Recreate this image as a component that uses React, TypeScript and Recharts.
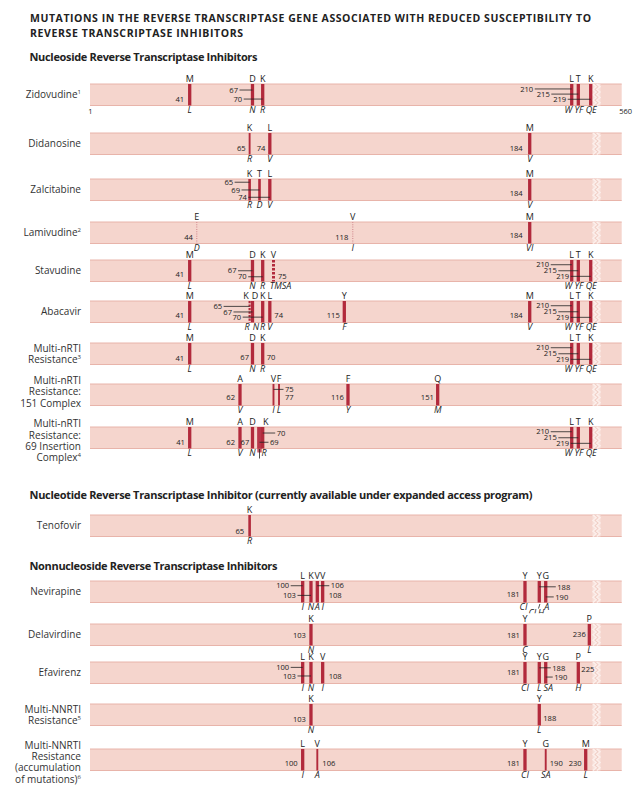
import React from 'react';
import { ComposedChart, XAxis, YAxis, ReferenceArea, ReferenceLine, Scatter } from 'recharts';

// ---------------- DATA ----------------
const TITLE_LINES = [
  'MUTATIONS IN THE REVERSE TRANSCRIPTASE GENE ASSOCIATED WITH REDUCED SUSCEPTIBILITY TO',
  'REVERSE TRANSCRIPTASE INHIBITORS',
];
const SECTION_TITLES = [
  'Nucleoside Reverse Transcriptase Inhibitors',
  'Nucleotide Reverse Transcriptase Inhibitor (currently available under expanded access program)',
  'Nonnucleoside Reverse Transcriptase Inhibitors',
];
const GENE_TICKS = [1, 560];
const AXIS_BREAK = 240;

const DRUGS = [
  'Zidovudine', 'Didanosine', 'Zalcitabine', 'Lamivudine', 'Stavudine', 'Abacavir',
  'Multi-nRTI\nResistance', 'Multi-nRTI\nResistance:\n151 Complex',
  'Multi-nRTI\nResistance:\n69 Insertion\nComplex', 'Tenofovir',
  'Nevirapine', 'Delavirdine', 'Efavirenz', 'Multi-NNRTI\nResistance',
  'Multi-NNRTI\nResistance\n(accumulation\nof mutations)',
];
const FOOTNOTES = ['1', '', '', '2', '', '', '3', '', '4', '', '', '', '', '5', '6'];
const DRUG_CLASS = ['nrti', 'nrti', 'nrti', 'nrti', 'nrti', 'nrti', 'nrti', 'nrti', 'nrti', 'nrti',
  'nnrti', 'nnrti', 'nnrti', 'nnrti', 'nnrti'];

// [codon, wild type, mutant]
type Mut = [number, string, string];
const zidovudine: Mut[] = [[41, 'M', 'L'], [67, 'D', 'N'], [70, 'K', 'R'], [210, 'L', 'W'], [215, 'T', 'YF'], [219, 'K', 'QE']];
const didanosine: Mut[] = [[65, 'K', 'R'], [74, 'L', 'V'], [184, 'M', 'V']];
const zalcitabine: Mut[] = [[65, 'K', 'R'], [69, 'T', 'D'], [74, 'L', 'V'], [184, 'M', 'V']];
const lamivudine: Mut[] = [[44, 'E', 'D'], [118, 'V', 'I'], [184, 'M', 'VI']];
const stavudine: Mut[] = [[41, 'M', 'L'], [67, 'D', 'N'], [70, 'K', 'R'], [75, 'V', 'TMSA'], [210, 'L', 'W'], [215, 'T', 'YF'], [219, 'K', 'QE']];
const abacavir: Mut[] = [[41, 'M', 'L'], [65, 'K', 'R'], [67, 'D', 'N'], [70, 'K', 'R'], [74, 'L', 'V'], [115, 'Y', 'F'], [184, 'M', 'V'], [210, 'L', 'W'], [215, 'T', 'YF'], [219, 'K', 'QE']];
const multiNrti: Mut[] = [[41, 'M', 'L'], [67, 'D', 'N'], [70, 'K', 'R'], [210, 'L', 'W'], [215, 'T', 'YF'], [219, 'K', 'QE']];
const multiNrti151: Mut[] = [[62, 'A', 'V'], [75, 'V', 'I'], [77, 'F', 'L'], [116, 'F', 'Y'], [151, 'Q', 'M']];
const multiNrti69: Mut[] = [[41, 'M', 'L'], [62, 'A', 'V'], [67, 'D', 'N'], [69, '', 'insert'], [70, 'K', 'R'], [210, 'L', 'W'], [215, 'T', 'YF'], [219, 'K', 'QE']];
const tenofovir: Mut[] = [[65, 'K', 'R']];
const nevirapine: Mut[] = [[100, 'L', 'I'], [103, 'K', 'N'], [106, 'V', 'A'], [108, 'V', 'I'], [181, 'Y', 'CI'], [188, 'Y', 'CLH'], [190, 'G', 'A']];
const delavirdine: Mut[] = [[103, 'K', 'N'], [181, 'Y', 'C'], [236, 'P', 'L']];
const efavirenz: Mut[] = [[100, 'L', 'I'], [103, 'K', 'N'], [108, 'V', 'I'], [181, 'Y', 'CI'], [188, 'Y', 'L'], [190, 'G', 'SA'], [225, 'P', 'H']];
const multiNnrti: Mut[] = [[103, 'K', 'N'], [188, 'Y', 'L']];
const multiNnrtiAccum: Mut[] = [[100, 'L', 'I'], [106, 'V', 'A'], [181, 'Y', 'CI'], [190, 'G', 'SA'], [230, 'M', 'L']];

const MUTATIONS = [zidovudine, didanosine, zalcitabine, lamivudine, stavudine, abacavir,
  multiNrti, multiNrti151, multiNrti69, tenofovir, nevirapine, delavirdine, efavirenz,
  multiNnrti, multiNnrtiAccum];

// Schematic (non-linear, broken) gene axis: codon -> fraction of bar length
const NRTI_KNOTS: [number, number][] = [
  [1, 0], [41, 0.1875], [44, 0.2007], [62, 0.2821], [65, 0.3002], [67, 0.3056], [69, 0.3188],
  [70, 0.3248], [74, 0.3382], [75, 0.3451], [77, 0.3555], [115, 0.4783], [116, 0.4852],
  [118, 0.4941], [151, 0.6539], [184, 0.827], [210, 0.906], [215, 0.9184], [219, 0.9417],
  [240, 0.9526], [560, 1],
];
const NNRTI_KNOTS: [number, number][] = [
  [1, 0], [100, 0.4], [103, 0.4156], [106, 0.4275], [108, 0.4376], [181, 0.8181], [188, 0.845],
  [190, 0.8571], [225, 0.9184], [230, 0.9323], [236, 0.9391], [240, 0.9526], [560, 1],
];

// ---------------- LAYOUT / STYLE ----------------
const FONT = '"Open Sans", "Noto Sans", "DejaVu Sans", sans-serif';
const BAR_H = 21.5;
const TOP_PAD = 18;
const BOTTOM_PAD = 28;
const RIGHT_PAD = 19.3;
const BAR_FILL = '#f5d5cd';
const BAR_EDGE = '#e8b4aa';
const MARK = '#b22a3c';
const INK = '#222';
const LEADER_MIN = 7.5;

type NumSpec = [string, number, number];
type RowLayout = {
  top: number; labelDy?: number; axis?: boolean;
  num?: Record<number, NumSpec>; mark?: Record<number, string>;
  wtDx?: Record<number, number>; mutDx?: Record<number, number>;
  drop?: Record<number, [number, boolean]>;
};

const TAM_A: Record<number, NumSpec> = { 210: ['l', 0.22, 22.5], 215: ['l', 0.5, 21.5], 219: ['l', 0.76, 21.5] };
const TAM_MUT_DX: Record<number, number> = { 210: -3.5, 215: 0.5, 219: 0.5 };

const ROW_LAYOUT: RowLayout[] = [
  { top: 84, axis: true, num: { 67: ['l', 0.28, 14.5], 70: ['l', 0.7, 20.5], 210: ['l', 0.23, 38.5], 215: ['l', 0.47, 28.5], 219: ['l', 0.71, 24.5] }, mutDx: { ...TAM_MUT_DX } },
  { top: 132.7, num: { 65: ['l', 0.72, 4], 74: ['l', 0.72, 4.5], 184: ['l', 0.72, 7] }, mark: { 65: 'thin' } },
  { top: 179, num: { 65: ['l', 0.15, 16.5], 69: ['l', 0.51, 19.5], 74: ['l', 0.85, 23], 184: ['l', 0.67, 7] }, mark: { 65: 'medium', 69: 'medium' } },
  { top: 221.7, num: { 44: ['l', 0.7, 3.8], 118: ['l', 0.7, 4.4], 184: ['l', 0.64, 7] }, mark: { 44: 'dot', 118: 'dot' } },
  { top: 260, num: { 41: ['l', 0.67, 5.5], 67: ['l', 0.5, 16], 70: ['l', 0.78, 16], 75: ['r', 0.74, 4.5], ...TAM_A }, mark: { 75: 'dash' }, mutDx: { 75: 7, ...TAM_MUT_DX } },
  { top: 300.7, num: { 41: ['l', 0.68, 5.5], 65: ['l', 0.25, 27.5], 67: ['l', 0.51, 20.5], 70: ['l', 0.75, 21.5], 74: ['r', 0.68, 4.5], 115: ['l', 0.68, 4.5], 184: ['l', 0.68, 7], ...TAM_A }, mark: { 65: 'dashThin' }, wtDx: { 65: -3.5, 67: 2.5 }, mutDx: { 65: -2.5, 67: 3.5, ...TAM_MUT_DX } },
  { top: 342.7, num: { 41: ['l', 0.7, 5.5], 67: ['l', 0.68, 3.5], 70: ['r', 0.68, 4], ...TAM_A }, mutDx: { ...TAM_MUT_DX } },
  { top: 384, labelDy: -3, num: { 62: ['l', 0.6, 5], 75: ['r', 0.25, 11.5], 77: ['r', 0.64, 6], 116: ['l', 0.62, 4], 151: ['l', 0.62, 3.8] }, mark: { 75: 'thin', 77: 'thin' } },
  { top: 426.7, labelDy: 2.8, num: { 41: ['l', 0.7, 4.8], 62: ['l', 0.7, 5], 67: ['l', 0.7, 3.2], 69: ['r', 0.71, 10.5], 70: ['r', 0.28, 14], ...TAM_A }, mark: { 69: 'wide' }, wtDx: { 70: 3 }, mutDx: { 70: 1.5, ...TAM_MUT_DX }, drop: { 69: [11, false] } },
  { top: 514.5, num: { 65: ['l', 0.75, 5.5] }, mark: { 65: 'medium' } },
  { top: 581, num: { 100: ['l', 0.22, 13.5], 103: ['l', 0.67, 15], 106: ['r', 0.22, 13.5], 108: ['r', 0.68, 6], 181: ['l', 0.6, 5.3], 188: ['r', 0.27, 18], 190: ['r', 0.74, 9.5] }, mutDx: { 181: -1.5, 188: -3, 190: 1 }, drop: { 188: [6, true] } },
  { top: 624, num: { 103: ['l', 0.52, 5], 181: ['l', 0.52, 5], 236: ['l', 0.47, 3.5] } },
  { top: 662, num: { 100: ['l', 0.25, 13.5], 103: ['l', 0.65, 15], 108: ['r', 0.68, 6], 181: ['l', 0.47, 5], 188: ['r', 0.27, 13], 190: ['r', 0.7, 8.5], 225: ['r', 0.34, 3] }, mutDx: { 190: 2.5 } },
  { top: 704, num: { 103: ['l', 0.71, 5], 188: ['r', 0.68, 4] } },
  { top: 749.3, labelDy: 2.3, num: { 100: ['l', 0.68, 5], 106: ['r', 0.68, 5], 181: ['l', 0.68, 5], 190: ['r', 0.68, 4], 230: ['l', 0.68, 4] }, mark: { 106: 'thin', 190: 'thin' } },
];

const SECTION_Y = [61, 499, 569.8];
const SECTION_W = [228, 503, 248];

// ---------------- HELPERS ----------------
function fraction(codon: number, knots: [number, number][]) {
  for (let i = 1; i < knots.length; i++) {
    const [c0, f0] = knots[i - 1];
    const [c1, f1] = knots[i];
    if (codon <= c1) return f0 + ((f1 - f0) * (codon - c0)) / (c1 - c0);
  }
  return 1;
}
function schematic(codon: number, cls: string) {
  const f = fraction(codon, cls === 'nnrti' ? NNRTI_KNOTS : NRTI_KNOTS);
  return GENE_TICKS[0] + (GENE_TICKS[1] - GENE_TICKS[0]) * f;
}

const BreakShape = (props: any) => {
  const { cx, cy } = props;
  const top = cy - BAR_H / 2;
  const bottom = cy + BAR_H / 2;
  const zig = (off: number) => {
    const pts: string[] = [];
    let k = 0;
    for (let y = top; y <= bottom + 0.01; y += BAR_H / 8) {
      pts.push(`${cx + off + (k % 2 ? 1.6 : -1.6)},${y}`);
      k++;
    }
    return pts.join(' ');
  };
  return (
    <g>
      <rect x={cx - 4} y={top} width={8} height={BAR_H} fill="#f8e1db" />
      <polyline points={zig(-2)} fill="none" stroke="#fcefeb" strokeWidth={1.3} />
      <polyline points={zig(2)} fill="none" stroke="#fcefeb" strokeWidth={1.3} />
      <polyline points={zig(0)} fill="none" stroke="#ebc2b9" strokeWidth={0.6} />
    </g>
  );
};

const MarkShape = (props: any) => {
  const { cx, cy, payload, lay } = props;
  const top = cy - BAR_H / 2;
  const bottom = cy + BAR_H / 2;
  const st = (lay.mark && lay.mark[payload.codon]) || 'thick';
  if (st === 'wide') {
    return (
      <g>
        <rect x={cx - 2.2} y={top} width={4.4} height={BAR_H + 4} fill="#c65a66" />
        <rect x={cx - 2.2} y={top} width={4.4} height={BAR_H} fill="#b8354a" />
      </g>
    );
  }
  const cfg: Record<string, any> = {
    thick: { w: 3.3, c: MARK },
    medium: { w: 2.6, c: MARK },
    thin: { w: 1.9, c: MARK },
    dash: { w: 3.0, c: MARK, d: '2.6 1.4' },
    dashThin: { w: 2.2, c: MARK, d: '2.2 1.3' },
    dot: { w: 1.4, c: '#d99a9c', d: '1 1.3' },
  };
  const s = cfg[st];
  return <line x1={cx} x2={cx} y1={top} y2={bottom} stroke={s.c} strokeWidth={s.w} strokeDasharray={s.d} />;
};

const LabelShape = (props: any) => {
  const { cx, cy, payload, lay } = props;
  const top = cy - BAR_H / 2;
  const bottom = cy + BAR_H / 2;
  const c = payload.codon;
  const spec: NumSpec = (lay.num && lay.num[c]) || ['l', 0.7, 5.5];
  const [side, fy, gap] = spec;
  const sign = side === 'l' ? -1 : 1;
  const tx = cx + sign * gap;
  const ny = top + fy * BAR_H;
  const wdx = (lay.wtDx && lay.wtDx[c]) || 0;
  const mdx = (lay.mutDx && lay.mutDx[c]) || 0;
  const drop = lay.drop && lay.drop[c];
  const dropY = drop ? drop[0] : 0;
  const italic = drop ? drop[1] : true;
  return (
    <g fontFamily={FONT}>
      {payload.wt ? (
        <text x={cx + wdx} y={top - 1.6} textAnchor="middle" fontSize={9} fill={INK}>{payload.wt}</text>
      ) : null}
      {drop ? (
        drop[0] > 8 ? (
          <line x1={cx} x2={cx} y1={bottom + 0.5} y2={bottom + dropY - 1} stroke={INK} strokeWidth={0.8} />
        ) : (
          <line x1={cx + 0.6} x2={cx - 0.8} y1={bottom + 1.5} y2={bottom + 6} stroke={INK} strokeWidth={0.8} />
        )
      ) : null}
      <text x={cx + mdx} y={bottom + 7.6 + dropY} textAnchor="middle" fontSize={drop && !italic ? 8.5 : 9}
        fontStyle={italic ? 'italic' : 'normal'} fill={INK}>{payload.mut}</text>
      {gap > LEADER_MIN ? (
        <line x1={tx - sign * 1.5} x2={cx} y1={ny} y2={ny} stroke={INK} strokeWidth={0.8} />
      ) : null}
      <text x={tx} y={ny + 2.7} textAnchor={side === 'l' ? 'end' : 'start'} fontSize={7.6} fill={INK}>{c}</text>
    </g>
  );
};

const DrugTick = (props: any) => {
  const { x, y, lines, note, dy } = props;
  const lh = 11.3;
  const start = y + dy - ((lines.length - 1) * lh) / 2;
  return (
    <g>
      {lines.map((l: string, i: number) => (
        <text key={i} x={x} y={start + i * lh + 3.6} textAnchor="end" fontSize={10} fill="#333" fontFamily={FONT}>
          {l}
          {i === lines.length - 1 && note ? <tspan fontSize={6} dy={-4}>{note}</tspan> : null}
        </text>
      ))}
    </g>
  );
};

const GeneTick = (props: any) => {
  const { x, y, payload } = props;
  const isEnd = payload.value === GENE_TICKS[1];
  return (
    <text x={x + (isEnd ? 4 : 0.5)} y={y + 8.6} textAnchor="middle" fontSize={7.5} fill={INK} fontFamily={FONT}>
      {payload.value}
    </text>
  );
};

function DrugRow({ index }: { index: number }) {
  const lay = ROW_LAYOUT[index];
  const cls = DRUG_CLASS[index];
  const points = MUTATIONS[index].map(([codon, wt, mut]) => ({ x: schematic(codon, cls), y: 0.5, codon, wt, mut }));
  const breakPoint = [{ x: schematic(AXIS_BREAK, cls), y: 0.5 }];
  const lines = DRUGS[index].split('\n');
  return (
    <div style={{ position: 'absolute', left: 0, top: lay.top - TOP_PAD }}>
      <ComposedChart width={641} height={TOP_PAD + BAR_H + BOTTOM_PAD}
        margin={{ top: TOP_PAD, right: RIGHT_PAD, bottom: 0, left: 0 }}>
        <XAxis type="number" dataKey="x" domain={GENE_TICKS} allowDataOverflow height={BOTTOM_PAD}
          ticks={GENE_TICKS} interval={0} axisLine={false} tickLine={false} tickSize={0} tickMargin={0}
          tick={lay.axis ? (p: any) => <GeneTick {...p} /> : false} />
        <YAxis type="number" dataKey="y" domain={[0, 1]} ticks={[0.5]} width={90} axisLine={false}
          tickLine={false} tickSize={0} tickMargin={9}
          tick={(p: any) => <DrugTick {...p} lines={lines} note={FOOTNOTES[index]} dy={lay.labelDy || 0} />} />
        <ReferenceArea x1={GENE_TICKS[0]} x2={GENE_TICKS[1]} y1={0} y2={1} fill={BAR_FILL} fillOpacity={1} stroke="none" />
        <ReferenceLine y={1} stroke={BAR_EDGE} strokeWidth={1} />
        <ReferenceLine y={0} stroke={BAR_EDGE} strokeWidth={1} />
        <Scatter data={breakPoint} shape={(p: any) => <BreakShape {...p} />} isAnimationActive={false} />
        <Scatter data={points} shape={(p: any) => <MarkShape {...p} lay={lay} />} isAnimationActive={false} />
        <Scatter data={points} shape={(p: any) => <LabelShape {...p} lay={lay} />} isAnimationActive={false} />
      </ComposedChart>
    </div>
  );
}

export default function App() {
  return (
    <div style={{ position: 'absolute', left: 0, top: 0, width: 641, height: 794, background: '#fff' }}>
      <svg width={641} height={794} style={{ position: 'absolute', left: 0, top: 0 }} fontFamily={FONT}>
        <text x={30} y={22} fontSize={10.5} fontWeight={700} fill={INK} textLength={561} lengthAdjust="spacing">{TITLE_LINES[0]}</text>
        <text x={30} y={37} fontSize={10.5} fontWeight={700} fill={INK} textLength={213} lengthAdjust="spacing">{TITLE_LINES[1]}</text>
        {SECTION_TITLES.map((t, i) => (
          <text key={i} x={29.5} y={SECTION_Y[i]} fontSize={11} fontWeight={700} fill={INK}
            textLength={SECTION_W[i]} lengthAdjust="spacing">{t}</text>
        ))}
      </svg>
      {DRUGS.map((_, i) => <DrugRow key={i} index={i} />)}
    </div>
  );
}
